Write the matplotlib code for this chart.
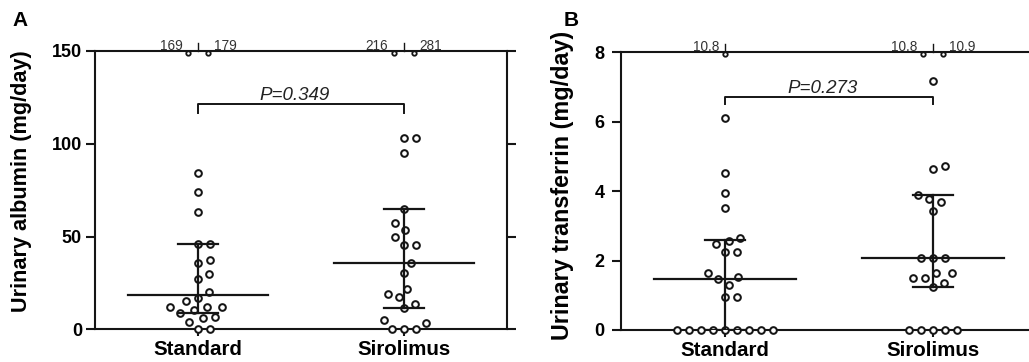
import numpy as np
import matplotlib
matplotlib.use("Agg")
import matplotlib.pyplot as plt

plt.rcParams["font.family"] = ["Liberation Sans", "DejaVu Sans"]

INK = "#151515"

groups = ["Standard", "Sirolimus"]

# urinary albumin (mg/day), panel A
albumin_standard = [0, 0, 4.1, 5.9, 6.8, 8.6, 10.4, 11.9, 11.9, 11.9, 15.3, 17.1,
                    19.9, 27.1, 29.8, 35.6, 37.2, 46.2, 46.2, 63.4, 74.0, 84.0, 169, 179]
albumin_sirolimus = [0, 0, 0, 3.6, 5.0, 11.3, 13.7, 17.2, 19.0, 21.9, 30.5, 35.6,
                     45.4, 45.4, 49.9, 53.5, 57.1, 64.7, 94.8, 103.3, 103.3, 216, 281]
albumin_p = "P=0.349"

# urinary transferrin (mg/day), panel B
transferrin_standard = [0, 0, 0, 0, 0, 0, 0, 0, 0, 0.96, 0.96, 1.29, 1.46, 1.52,
                        1.65, 2.24, 2.24, 2.47, 2.57, 2.64, 3.51, 3.96, 4.51, 6.12, 10.8]
transferrin_sirolimus = [0, 0, 0, 0, 0, 1.25, 1.36, 1.51, 1.51, 1.63, 1.63, 2.08,
                         2.08, 2.08, 3.44, 3.70, 3.77, 3.89, 4.63, 4.73, 7.16, 10.8, 10.9]
transferrin_p = "P=0.273"


def swarm_offsets(ax, xc, vals, diam):
    # seaborn-like swarm: push points sideways (in pixels) until they don't overlap
    pts = ax.transData.transform(np.column_stack([np.full(len(vals), xc), vals]))
    ys = pts[:, 1]
    placed = []
    xs = np.zeros(len(vals))
    for i in np.argsort(ys, kind="stable"):
        y = ys[i]
        near = [(px, py) for px, py in placed if abs(py - y) < diam]
        cands = [0.0]
        for px, py in near:
            dx = np.sqrt(diam ** 2 - (py - y) ** 2)
            cands += [px + dx, px - dx]
        cands.sort(key=abs)
        best = cands[-1]
        for c in cands:
            if all((c - px) ** 2 + (y - py) ** 2 >= diam ** 2 - 1e-6 for px, py in near):
                best = c
                break
        xs[i] = best
        placed.append((best, y))
    px_per_unit = ax.transData.transform((1, 0))[0] - ax.transData.transform((0, 0))[0]
    return xc + xs / px_per_unit


def draw_group(ax, xc, vals, ymax):
    vals = np.asarray(vals, dtype=float)
    inside = vals[vals <= ymax]
    above = vals[vals > ymax]
    xs = swarm_offsets(ax, xc, inside, 12.0)
    ax.plot(xs, inside, "o", ms=4.8, mfc="white", mec=INK, mew=1.45,
            clip_on=False, zorder=3, linestyle="none")

    med = np.median(vals)
    q1, q3 = np.percentile(vals, [25, 75], method="weibull")
    ax.plot([xc - 0.34, xc + 0.34], [med, med], color=INK, lw=1.6, zorder=4)
    ax.plot([xc, xc], [q1, q3], color=INK, lw=1.6, zorder=4)
    for q in (q1, q3):
        ax.plot([xc - 0.095, xc + 0.095], [q, q], color=INK, lw=1.6, zorder=4)

    # off-scale values sit on the top border with their value written beside
    px_per_unit = ax.transData.transform((1, 0))[0] - ax.transData.transform((0, 0))[0]
    span = ymax - ax.get_ylim()[0]
    ax.plot([xc, xc], [ymax, ymax + span * 0.03], color=INK, lw=1.0,
            clip_on=False, zorder=5)
    if len(above) == 1:
        offs = [0.0]
        sides = [-1]
    else:
        offs = [-10 / px_per_unit, 10 / px_per_unit]
        sides = [-1, 1]
    for v, o, s in zip(sorted(above), offs, sides):
        ax.plot(xc + o, ymax - span * 0.006, "o", ms=3.2, mfc="white", mec=INK,
                mew=1.3, clip_on=False, zorder=6)
        ax.annotate(f"{v:g}", (xc + o, ymax), xytext=(s * 4, -1.5),
                    textcoords="offset points", ha="right" if s < 0 else "left",
                    va="bottom", fontsize=9.8, color="#333333")


def setup_axes(ax, yticks, ymax, ypad):
    ax.set_xlim(-0.5, 1.5)
    ax.set_ylim(0, ymax)
    for sp in ax.spines.values():
        sp.set_linewidth(1.5)
        sp.set_color(INK)
    ax.set_yticks(yticks)
    ax.set_xticks([0, 1])
    ax.set_xticklabels(groups, fontsize=14.8, fontweight="bold")
    ax.tick_params(axis="y", which="both", direction="out", length=6.8, width=1.5,
                   right=True, labelright=False, labelsize=13, pad=ypad, colors=INK)
    ax.tick_params(axis="y", labelcolor="black")
    for lab in ax.get_yticklabels():
        lab.set_fontweight("bold")
    ax.tick_params(axis="x", direction="out", length=5, width=1.5, pad=3, colors=INK)
    ax.tick_params(axis="x", labelcolor="black")


def bracket(ax, y, drop, text):
    ax.plot([0, 0, 1, 1], [y - drop, y, y, y - drop], color=INK, lw=1.4)
    ax.text(0.47, y, text, ha="center", va="bottom", fontsize=13.5,
            style="italic", color="#222222")


fig = plt.figure(figsize=(10.29, 3.62), dpi=100)
axA = fig.add_axes([0.0923, 0.0903, 0.4004, 0.769])
axB = fig.add_axes([0.6035, 0.0884, 0.4043, 0.767])

setup_axes(axA, [0, 50, 100, 150], 150, 2.5)
setup_axes(axB, [0, 2, 4, 6, 8], 8, 5)

for i, vals in enumerate([albumin_standard, albumin_sirolimus]):
    draw_group(axA, i, vals, 150)
for i, vals in enumerate([transferrin_standard, transferrin_sirolimus]):
    draw_group(axB, i, vals, 8)

bracket(axA, 121.3, 4.5, albumin_p)
bracket(axB, 6.72, 0.22, transferrin_p)

fig.text(22 / 1029, 1 - 181 / 362, "Urinary albumin (mg/day)", rotation=90,
         ha="center", va="center", fontsize=15.6, fontweight="bold")
fig.text(563 / 1029, 1 - 185 / 362, "Urinary transferrin (mg/day)", rotation=90,
         ha="center", va="center", fontsize=16.8, fontweight="bold")

fig.text(12 / 1029, 1 - 11 / 362, "A", ha="left", va="top", fontsize=15, fontweight="bold")
fig.text(564 / 1029, 1 - 11 / 362, "B", ha="left", va="top", fontsize=15, fontweight="bold")

fig.savefig("out.png", dpi=100)
